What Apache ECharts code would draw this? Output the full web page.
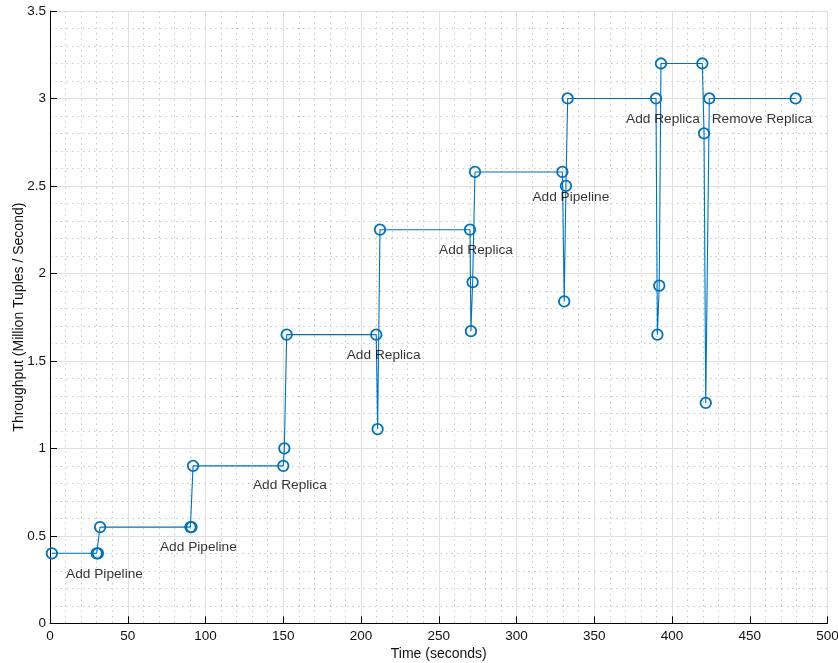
<!DOCTYPE html>
<html>
<head>
<meta charset="utf-8">
<script src="https://cdn.jsdelivr.net/npm/echarts@6/dist/echarts.min.js"></script>
<style>
  html, body { margin: 0; padding: 0; background: #fff; }
  #chart { width: 838px; height: 663px; }
</style>
</head>
<body>
<div id="chart"></div>
<script>
// Measured throughput over time (seconds, million tuples / second)
const timeSec = [1.2, 30, 30.8, 32.2, 90.3, 91, 92, 150, 150.7, 152.2, 209.8, 210.7, 212.2,
  270.1, 270.7, 271.8, 273.3, 329.5, 330.7, 331.8, 332.9, 389.7, 390.6, 391.8, 392.9,
  419.5, 420.6, 421.7, 424, 479.5];
const throughput = [0.4, 0.4, 0.4, 0.55, 0.55, 0.55, 0.9, 0.9, 1.0, 1.65, 1.65, 1.11, 2.25,
  2.25, 1.67, 1.95, 2.58, 2.58, 1.84, 2.5, 3.0, 3.0, 1.65, 1.93, 3.2,
  3.2, 2.8, 1.26, 3.0, 3.0];

// Reconfiguration events, annotated next to the curve
const eventText = ['Add Pipeline', 'Add Pipeline', 'Add Replica', 'Add Replica',
  'Add Replica', 'Add Pipeline', 'Add Replica', 'Remove Replica'];
const eventX = [10.3, 70.7, 130.5, 190.8, 250.2, 310.2, 370.4, 425.5];
const eventY = [0.283, 0.433, 0.788, 1.533, 2.133, 2.433, 2.881, 2.881];

const xTicks = { min: 0, max: 500, step: 50 };
const yTicks = { min: 0, max: 3.5, step: 0.5 };

const FONT = '"Liberation Sans", Arial, Helvetica, sans-serif';
const BLUE = '#0072BD';

function axisCommon() {
  return {
    axisLine: { show: true, onZero: false, lineStyle: { color: '#000', width: 1 } },
    axisTick: { show: true, inside: true, length: 7, lineStyle: { color: '#000', width: 1 } },
    minorTick: { show: true, splitNumber: 5, length: 0, lineStyle: { opacity: 0 } },
    splitLine: { show: true, lineStyle: { color: '#e0e0e0', width: 1 } },
    minorSplitLine: { show: true, lineStyle: { color: '#b8b8b8', width: 0.8, type: [1.5, 4] } },
    axisLabel: { color: '#111', fontFamily: FONT, fontSize: 13.5 },
    nameTextStyle: { color: '#111', fontFamily: FONT, fontSize: 14 },
    nameMoveOverlap: false
  };
}

const chart = echarts.init(document.getElementById('chart'), null, { renderer: 'canvas' });

chart.setOption({
  animation: false,
  backgroundColor: '#fff',
  grid: { left: 50, right: 10.5, top: 11, bottom: 39.7, containLabel: false, outerBoundsMode: 'none' },
  xAxis: Object.assign(axisCommon(), {
    type: 'value',
    min: xTicks.min, max: xTicks.max, interval: xTicks.step,
    name: 'Time (seconds)', nameLocation: 'middle', nameGap: 24,
    axisLabel: Object.assign(axisCommon().axisLabel, { margin: 5.5 })
  }),
  yAxis: Object.assign(axisCommon(), {
    type: 'value',
    min: yTicks.min, max: yTicks.max, interval: yTicks.step,
    name: 'Throughput (Million Tuples / Second)', nameLocation: 'middle', nameGap: 24,
    axisLabel: Object.assign(axisCommon().axisLabel, { margin: 4 })
  }),
  series: [
    {
      type: 'line',
      data: timeSec.map((t, i) => [t, throughput[i]]),
      symbol: 'circle',
      symbolSize: 10.5,
      showAllSymbol: true,
      lineStyle: { color: BLUE, width: 1.1 },
      itemStyle: { color: 'rgba(0,0,0,0)', borderColor: BLUE, borderWidth: 1.8 },
      z: 3
    },
    {
      type: 'scatter',
      data: eventX.map((t, i) => [t, eventY[i], eventText[i]]),
      symbolSize: 0.1,
      silent: true,
      label: {
        show: true,
        position: 'right',
        distance: 0,
        formatter: p => p.data[2],
        color: '#000',
        fontFamily: FONT,
        fontSize: 13.7
      },
      z: 4
    }
  ]
});
</script>
</body>
</html>
